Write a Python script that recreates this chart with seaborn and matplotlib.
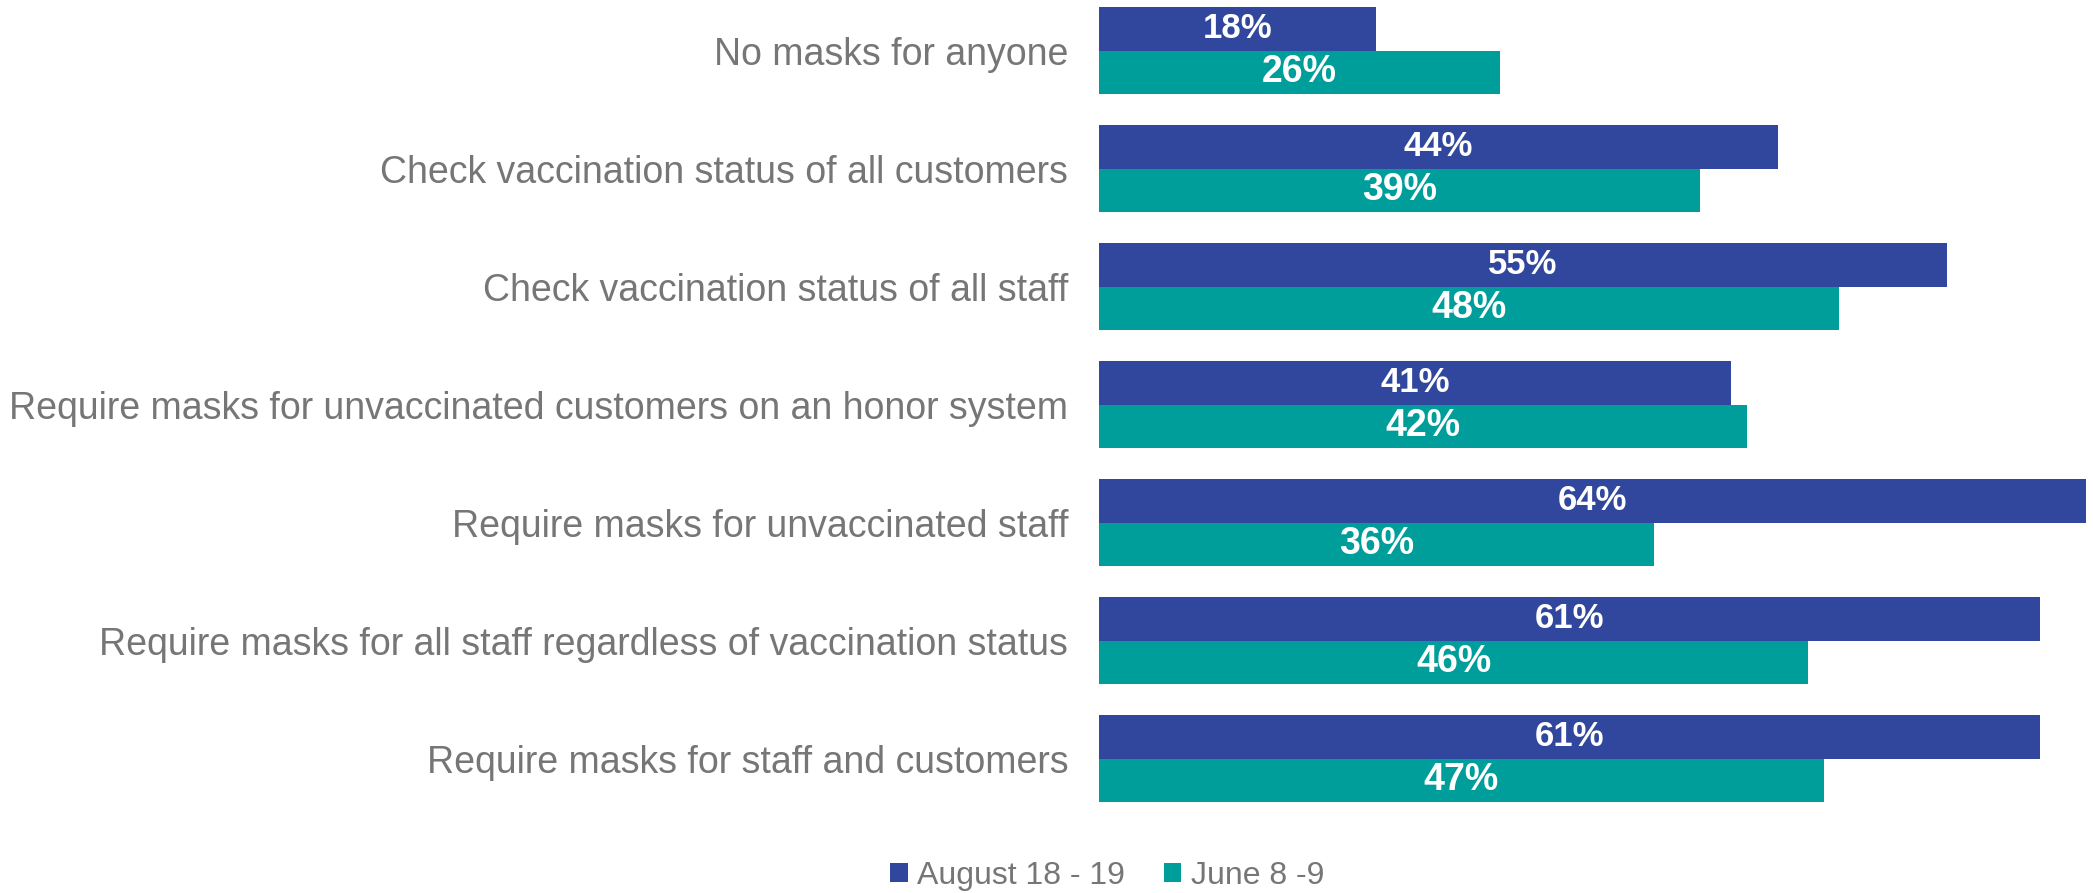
import pandas as pd
import seaborn as sns
import matplotlib.pyplot as plt
from matplotlib.patches import Patch

categories = [
    "No masks for anyone",
    "Check vaccination status of all customers",
    "Check vaccination status of all staff",
    "Require masks for unvaccinated customers on an honor system",
    "Require masks for unvaccinated staff",
    "Require masks for all staff regardless of vaccination status",
    "Require masks for staff and customers",
]
periods = ["August 18 - 19", "June 8 -9"]
august = [18, 44, 55, 41, 64, 61, 61]
june = [26, 39, 48, 42, 36, 46, 47]
colors = ["#31479D", "#009E9A"]

df = pd.DataFrame({
    "category": categories * 2,
    "period": [periods[0]] * len(categories) + [periods[1]] * len(categories),
    "value": august + june,
})

sns.set_style("white")
plt.rcParams["font.family"] = ["Liberation Sans", "DejaVu Sans"]
gray = "#767676"

fig = plt.figure(figsize=(20.93, 8.93), dpi=100)
ax = fig.add_axes([0.525, 0.0817, 0.4717, 0.9183])

sns.barplot(data=df, y="category", x="value", hue="period", orient="h",
            palette=colors, width=0.737, dodge=True, legend=False,
            saturation=1, ax=ax, linewidth=0)

# value labels inside bars
label_sizes = [25, 27]
for cont, vals, fs in zip(ax.containers, [august, june], label_sizes):
    ax.bar_label(cont, labels=[f"{v}%" for v in vals], label_type="center",
                 color="white", fontweight="bold", fontsize=fs)

ax.set_xlim(0, 64)
ax.set_ylim(6.521, -0.428)
ax.set_xlabel("")
ax.set_ylabel("")
ax.set_xticks([])
ax.tick_params(axis="y", length=0, pad=22, labelsize=27, labelcolor=gray)
for s in ax.spines.values():
    s.set_visible(False)

handles = [Patch(facecolor=c, edgecolor="none", label=p) for c, p in zip(colors, periods)]
fig.legend(handles=handles, loc="center", bbox_to_anchor=(0.529, 0.019), ncol=2,
           frameon=False, fontsize=23, handlelength=0.55, handleheight=0.55,
           handletextpad=0.3, columnspacing=1.2, labelcolor=gray)

fig.savefig("out.png", dpi=100)
